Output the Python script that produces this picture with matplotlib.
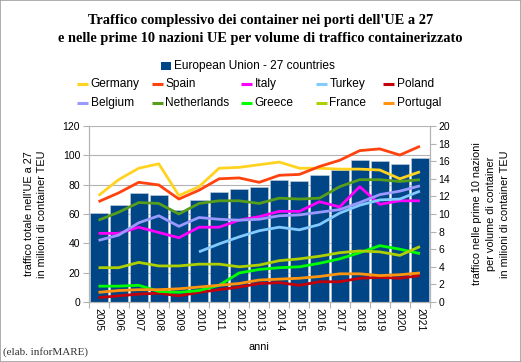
import matplotlib
matplotlib.use("Agg")
import matplotlib.pyplot as plt
from matplotlib.lines import Line2D
from matplotlib.patches import Rectangle
import numpy as np

years = [str(y) for y in range(2005, 2022)]

eu27 = [60.6, 65.8, 74.2, 73.1, 62.4, 69.7, 74.9, 77.2, 78.3, 82.9, 82.2,
        86.7, 89.7, 96.8, 96.3, 94.3, 97.9]

germany = [12.1, 13.9, 15.2, 15.7, 12.1, 13.1, 15.2, 15.3, 15.6, 15.9, 15.2,
           15.2, 15.1, 15.1, 15.0, 14.0, 14.8]
spain = [11.4, 12.4, 13.6, 13.3, 11.7, 12.7, 14.0, 14.1, 13.6, 14.4, 14.5,
         15.4, 16.1, 17.2, 17.4, 16.7, 17.7]
italy = [7.8, 7.8, 8.5, 7.9, 7.3, 8.5, 8.5, 9.3, 9.7, 10.3, 10.3,
         11.4, 10.8, 13.1, 11.1, 11.5, 11.5]
turkey = [None, None, None, None, None, 5.7, 6.6, 7.4, 8.1, 8.5, 8.2,
          8.8, 10.1, 11.0, 11.6, 11.7, 12.6]
poland = [0.5, 0.7, 0.9, 1.0, 0.7, 1.1, 1.4, 1.7, 2.1, 2.2, 1.9,
          2.3, 2.3, 2.7, 2.8, 2.7, 3.0]
belgium = [7.0, 7.6, 9.0, 9.8, 8.6, 9.6, 9.4, 9.3, 9.4, 9.8, 9.9,
           10.2, 10.5, 11.3, 12.2, 12.6, 13.2]
netherlands = [9.3, 10.2, 11.3, 11.2, 10.0, 11.2, 11.5, 11.5, 11.2, 11.8, 11.7,
               11.8, 13.1, 13.9, 13.9, 13.7, 13.9]
greece = [1.8, 1.8, 1.9, 1.2, 1.1, 1.3, 1.9, 3.3, 3.7, 3.9, 4.0,
          4.4, 4.9, 5.6, 6.4, 6.0, 5.5]
france = [3.9, 3.9, 4.5, 4.1, 4.1, 4.3, 4.3, 4.0, 4.2, 4.7, 4.9,
          5.2, 5.6, 5.8, 5.7, 5.3, 6.3]
portugal = [1.1, 1.3, 1.4, 1.4, 1.5, 1.7, 1.9, 2.1, 2.5, 2.6, 2.7,
            2.9, 3.2, 3.2, 3.0, 3.1, 3.3]

series_names = ["Germany", "Spain", "Italy", "Turkey", "Poland",
                "Belgium", "Netherlands", "Greece", "France", "Portugal"]
series_values = [germany, spain, italy, turkey, poland,
                 belgium, netherlands, greece, france, portugal]
series_colors = ["#FFD320", "#FF420E", "#FF00FF", "#83CAFF", "#C5000B",
                 "#9999FF", "#579D1C", "#00FF00", "#AECF00", "#FF950E"]
eu_label = "European Union - 27 countries"
eu_color = "#004586"

W, H = 521, 362
fig = plt.figure(figsize=(W / 100, H / 100), dpi=100)
plt.rcParams['font.family'] = ['Liberation Sans', 'DejaVu Sans']

def fx(px):
    return px / W

def fy(py):
    return 1 - py / H

# figure border
fig.add_artist(Rectangle((0, 0), 1, 1, transform=fig.transFigure, fill=False,
                         edgecolor="#a0a0a0", linewidth=1.2))

left, right, top, bottom = 88.5, 430, 126, 302
ax = fig.add_axes([fx(left), fy(bottom), fx(right - left), (bottom - top) / H])
x = np.arange(len(years))
ax.bar(x, eu27, width=0.9, color=eu_color, edgecolor="#c8d4e0", linewidth=0.4, zorder=2)
ax.set_xlim(-0.5, len(years) - 0.5)
ax.set_ylim(0, 120)
ax.set_yticks(np.arange(0, 121, 20))
ax.yaxis.grid(True, color="#b3b3b3", linewidth=0.8, zorder=0)
ax.set_axisbelow(True)
ax.set_xticks(x)
ax.set_xticklabels(years, rotation=270, fontsize=7.5)
ax.set_xticks(np.arange(-0.5, len(years), 1), minor=True)
ax.tick_params(axis='x', which='major', length=0, pad=4)
ax.tick_params(axis='x', which='minor', length=4, color="#b3b3b3", width=0.8)
ax.tick_params(axis='y', length=4, color="#b3b3b3", width=0.8, labelsize=7.5, pad=2)
for s in ['left', 'bottom', 'right']:
    ax.spines[s].set_color("#b3b3b3")
    ax.spines[s].set_linewidth(0.8)
ax.spines['top'].set_visible(False)
ax.set_ylabel("traffico totale nell'UE a 27\nin milioni di container TEU", fontsize=7.8,
              labelpad=11, linespacing=1.45)
ax.set_xlabel("anni", fontsize=7.8, labelpad=8)

ax2 = ax.twinx()
ax2.set_ylim(0, 20)
ax2.set_yticks(np.arange(0, 21, 2))
for name, vals, col in zip(series_names, series_values, series_colors):
    v = np.array([np.nan if a is None else a for a in vals], dtype=float)
    ax2.plot(x, v, color=col, linewidth=2.0, solid_capstyle='butt', zorder=3)
ax2.tick_params(axis='y', length=4, color="#b3b3b3", width=0.8, labelsize=7.5, pad=2)
for s in ['left', 'bottom', 'right']:
    ax2.spines[s].set_color("#b3b3b3")
    ax2.spines[s].set_linewidth(0.8)
ax2.spines['top'].set_visible(False)
ax2.set_ylabel("traffico nelle prime 10 nazioni\nper volume di container\nin milioni di container TEU",
               fontsize=7.8, labelpad=16, linespacing=1.45)

# title
fig.text(fx(261), fy(20.5), "Traffico complessivo dei container nei porti dell'UE a 27",
         ha='center', va='center', fontsize=10.4, fontweight='bold', family='Liberation Serif')
fig.text(fx(260), fy(38.5), "e nelle prime 10 nazioni UE per volume di traffico containerizzato",
         ha='center', va='center', fontsize=10.4, fontweight='bold', family='Liberation Serif')

# legend
fig.add_artist(Rectangle((fx(161), fy(69.5)), fx(9.5), 7.5 / H, transform=fig.transFigure,
                         facecolor=eu_color, edgecolor='none'))
fig.text(fx(174), fy(65.5), eu_label, ha='left', va='center', fontsize=8.6)
col_x = [77, 152, 241, 316, 383]
row_y = [84, 103]
for i, (name, col) in enumerate(zip(series_names, series_values and series_colors)):
    r, c = divmod(i, 5)
    hx, hy = col_x[c], row_y[r]
    fig.add_artist(Line2D([fx(hx), fx(hx + 10.5)], [fy(hy), fy(hy)], transform=fig.transFigure,
                          color=col, linewidth=2.2, solid_capstyle='butt'))
    fig.text(fx(hx + 13.5), fy(hy), name, ha='left', va='center', fontsize=8.6)

fig.text(fx(3), fy(352), "(elab. inforMARE)", ha='left', va='center', fontsize=8,
         family='Liberation Serif', color="#333333")

fig.savefig("out.png", dpi=100)
